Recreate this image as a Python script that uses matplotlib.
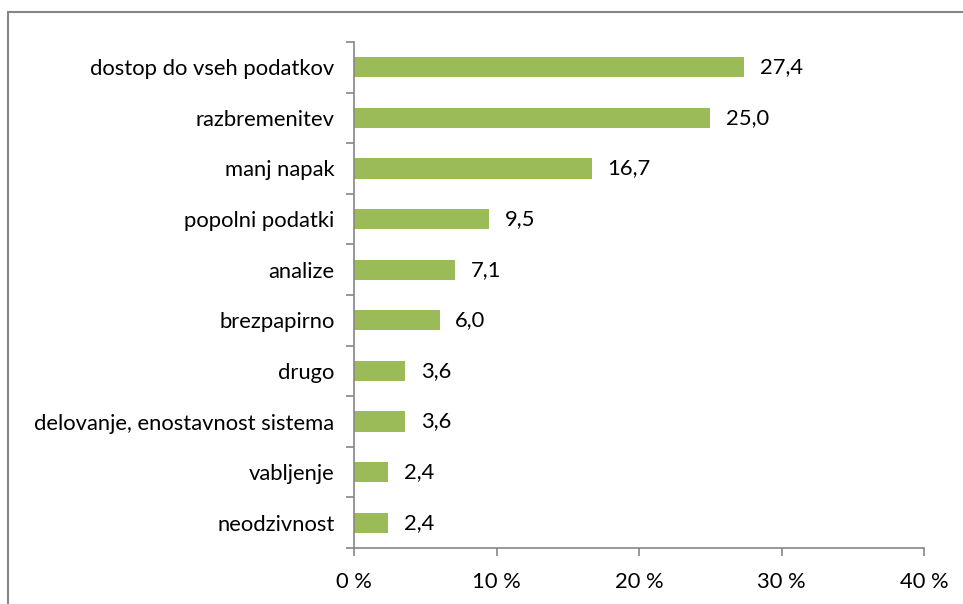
import matplotlib
matplotlib.use("Agg")
import matplotlib.pyplot as plt
from matplotlib.patches import Rectangle

categories = ["dostop do vseh podatkov", "razbremenitev", "manj napak", "popolni podatki",
              "analize", "brezpapirno", "drugo", "delovanje, enostavnost sistema",
              "vabljenje", "neodzivnost"]
values = [27.4, 25.0, 16.7, 9.5, 7.1, 6.0, 3.6, 3.6, 2.4, 2.4]
xticks = [0, 10, 20, 30, 40]
xticklabels = ["0 %", "10 %", "20 %", "30 %", "40 %"]

plt.rcParams['font.family'] = ['Lato', 'DejaVu Sans']
FS = 15.8

fig = plt.figure(figsize=(9.63, 6.04), dpi=100)
fig.patches.append(Rectangle((8/963, -0.1), 1.2, 1 - 12/604 + 0.1, transform=fig.transFigure,
                             fill=False, edgecolor='#868686', linewidth=1.5))
ax = fig.add_axes([354/963, 1 - 548/604, (924 - 354)/963, (548 - 42)/604])

n = len(categories)
ypos = list(range(n))[::-1]
ax.barh(ypos, values, height=0.4, color='#9BBB59')
for y, v in zip(ypos, values):
    ax.text(v + 1.1, y, f"{v:.1f}".replace('.', ','), va='center', ha='left', fontsize=FS)

ax.set_xlim(0, 40)
ax.set_ylim(-0.5, n - 0.5)
ax.set_xticks(xticks)
ax.set_xticklabels(xticklabels, fontsize=FS)
ax.set_yticks([i - 0.5 for i in range(n + 1)], minor=False)
ax.set_yticklabels([])
ax.set_yticks(ypos, minor=True)
ax.set_yticklabels(categories, minor=True, fontsize=FS)
ax.tick_params(axis='y', which='minor', length=0, pad=14)
ax.tick_params(axis='y', which='major', length=6, color='#868686', width=1.2)
ax.tick_params(axis='x', length=6, color='#868686', width=1.2, pad=11)
for s in ['top', 'right']:
    ax.spines[s].set_visible(False)
for s in ['left', 'bottom']:
    ax.spines[s].set_color('#868686')
    ax.spines[s].set_linewidth(1.2)

fig.savefig("out.png", dpi=100)
